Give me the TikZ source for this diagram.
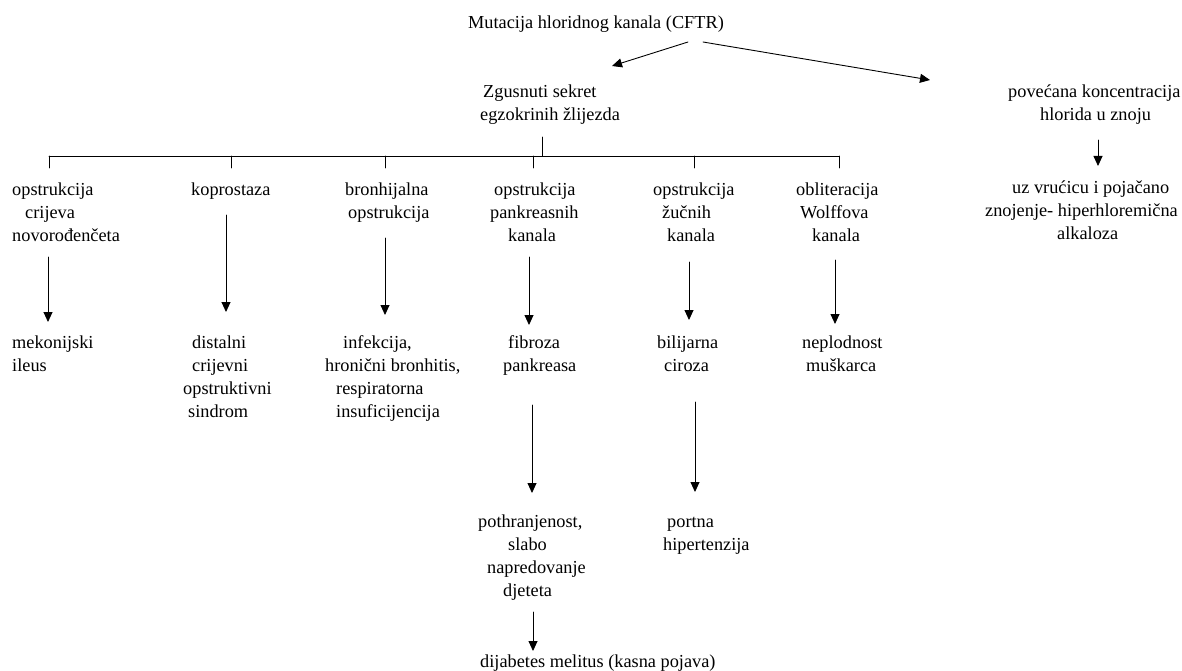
\documentclass[tikz,border=0pt]{standalone}
\usepackage{fontspec}
\setmainfont{Liberation Serif}
\usetikzlibrary{arrows.meta}

\begin{document}
\begin{tikzpicture}[
  x=1pt,
  y=-1pt,
  line cap=round,
  line join=round,
  txt/.style={
    inner sep=0pt,
    anchor=base west,
    align=left,
    font=\fontsize{18.3}{23}\selectfont
  },
  tree/.style={line width=0.9pt},
  arr/.style={line width=0.9pt,-{Triangle[length=10pt,width=9pt]}}
]
  \useasboundingbox (0,0) rectangle (1182,671);

  % Naslov i dvije glavne grane (y = osnovna linija zadnjeg reda)
  \node[txt] (mut) at (468,29) {Mutacija hloridnog kanala (CFTR)};
  \node[txt] (sek) at (480,121) {\hspace*{3pt}Zgusnuti sekret\\egzokrinih žlijezda};
  \node[txt] (kon) at (1008,121) {povećana koncentracija\\\hspace*{32pt}hlorida u znoju};
  \node[txt] (alk) at (985,239)
    {\hspace*{27pt}uz vrućicu i pojačano\\znojenje- hiperhloremična\\\hspace*{72pt}alkaloza};

  % Prvi red (uzroci)
  \node[txt] (c1) at (12,241) {opstrukcija\\\hspace*{13pt}crijeva\\novorođenčeta};
  \node[txt] (c2) at (191,195) {koprostaza};
  \node[txt] (c3) at (345,218) {bronhijalna\\\hspace*{3pt}opstrukcija};
  \node[txt] (c4) at (490,241) {\hspace*{4pt}opstrukcija\\pankreasnih\\\hspace*{18pt}kanala};
  \node[txt] (c5) at (653,241) {opstrukcija\\\hspace*{9pt}žučnih\\\hspace*{14pt}kanala};
  \node[txt] (c6) at (796,241) {obliteracija\\\hspace*{4pt}Wolffova\\\hspace*{16pt}kanala};

  % Drugi red (posljedice)
  \node[txt] (d1) at (12,371) {mekonijski\\ileus};
  \node[txt] (d2) at (183,417)
    {\hspace*{9pt}distalni\\\hspace*{9pt}crijevni\\opstruktivni\\\hspace*{5pt}sindrom};
  \node[txt] (d3) at (325,417)
    {\hspace*{18pt}infekcija,\\hronični bronhitis,\\\hspace*{11pt}respiratorna\\\hspace*{11pt}insuficijencija};
  \node[txt] (d4) at (503,371) {\hspace*{5pt}fibroza\\pankreasa};
  \node[txt] (d5) at (657,371) {bilijarna\\\hspace*{7pt}ciroza};
  \node[txt] (d6) at (802,371) {neplodnost\\\hspace*{4pt}muškarca};

  % Treći red
  \node[txt] (e4) at (478,596)
    {pothranjenost,\\\hspace*{30pt}slabo\\\hspace*{9pt}napredovanje\\\hspace*{25pt}djeteta};
  \node[txt] (e5) at (663,550) {\hspace*{4pt}portna\\hipertenzija};
  \node[txt] (f4) at (480,667) {dijabetes melitus (kasna pojava)};

  % Krajevi strelica
  \coordinate (m1) at (688,42);
  \coordinate (m2) at (612,66);
  \coordinate (m3) at (703,42);
  \coordinate (m4) at (930,80);
  \coordinate (k1) at (1098,140);
  \coordinate (k2) at (1098,166);

  \coordinate (a1) at (48,257);  \coordinate (z1) at (48,322);
  \coordinate (a2) at (226,215); \coordinate (z2) at (226,312);
  \coordinate (a3) at (385,238); \coordinate (z3) at (385,315);
  \coordinate (a4) at (529,257); \coordinate (z4) at (529,325);
  \coordinate (a5) at (689,262); \coordinate (z5) at (689,320);
  \coordinate (a6) at (835,260); \coordinate (z6) at (835,324);

  \coordinate (p4) at (532,405); \coordinate (q4) at (532,493);
  \coordinate (p5) at (695,402); \coordinate (q5) at (695,492);
  \coordinate (r4) at (533,612); \coordinate (s4) at (533,651);

  % Grananje ispod sekreta
  \coordinate (v0) at (542,137);
  \coordinate (v1) at (542,156);
  \coordinate (t1) at (49,156);  \coordinate (b1) at (49,168);
  \coordinate (t2) at (231,156); \coordinate (b2) at (231,168);
  \coordinate (t3) at (385,156); \coordinate (b3) at (385,168);
  \coordinate (t4) at (533,156); \coordinate (b4) at (533,168);
  \coordinate (t5) at (694,156); \coordinate (b5) at (694,168);
  \coordinate (t6) at (839,156); \coordinate (b6) at (839,168);

  \draw[tree] (v0) -- (v1);
  \draw[tree] (t1) -- (t6);
  \draw[tree] (t1) -- (b1);
  \draw[tree] (t2) -- (b2);
  \draw[tree] (t3) -- (b3);
  \draw[tree] (t4) -- (b4);
  \draw[tree] (t5) -- (b5);
  \draw[tree] (t6) -- (b6);

  % Strelice
  \draw[arr] (m1) -- (m2);
  \draw[arr] (m3) -- (m4);
  \draw[arr] (k1) -- (k2);

  \draw[arr] (a1) -- (z1);
  \draw[arr] (a2) -- (z2);
  \draw[arr] (a3) -- (z3);
  \draw[arr] (a4) -- (z4);
  \draw[arr] (a5) -- (z5);
  \draw[arr] (a6) -- (z6);

  \draw[arr] (p4) -- (q4);
  \draw[arr] (p5) -- (q5);
  \draw[arr] (r4) -- (s4);
\end{tikzpicture}
\end{document}
